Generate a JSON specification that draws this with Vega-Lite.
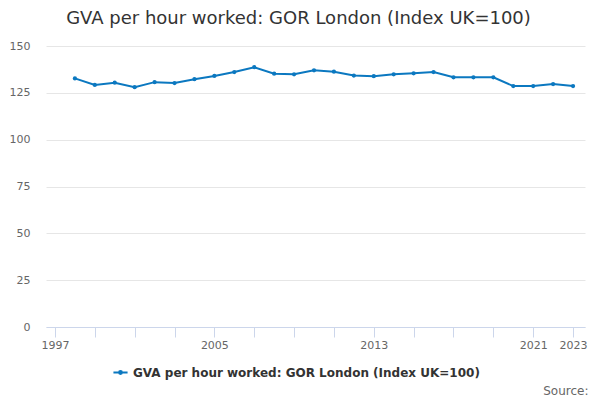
{
  "$schema": "https://vega.github.io/schema/vega-lite/v6.json",
  "autosize": {"type": "none"},
  "width": 539,
  "height": 281,
  "padding": {"left": 46, "top": 46, "right": 15, "bottom": 73},
  "background": "white",
  "title": {
    "text": "GVA per hour worked: GOR London (Index UK=100)",
    "font": "DejaVu Sans",
    "fontSize": 18,
    "fontWeight": "normal",
    "color": "#333333",
    "anchor": "middle",
    "frame": "group",
    "offset": 12,
    "dx": -17
  },
  "config": {
    "view": {"stroke": null},
    "font": "DejaVu Sans"
  },
  "data": {
    "values": [
      {"year": 1998, "value": 132.7, "series": "GVA per hour worked: GOR London (Index UK=100)"},
      {"year": 1999, "value": 129.2, "series": "GVA per hour worked: GOR London (Index UK=100)"},
      {"year": 2000, "value": 130.4, "series": "GVA per hour worked: GOR London (Index UK=100)"},
      {"year": 2001, "value": 128.0, "series": "GVA per hour worked: GOR London (Index UK=100)"},
      {"year": 2002, "value": 130.7, "series": "GVA per hour worked: GOR London (Index UK=100)"},
      {"year": 2003, "value": 130.2, "series": "GVA per hour worked: GOR London (Index UK=100)"},
      {"year": 2004, "value": 132.3, "series": "GVA per hour worked: GOR London (Index UK=100)"},
      {"year": 2005, "value": 134.0, "series": "GVA per hour worked: GOR London (Index UK=100)"},
      {"year": 2006, "value": 136.1, "series": "GVA per hour worked: GOR London (Index UK=100)"},
      {"year": 2007, "value": 138.7, "series": "GVA per hour worked: GOR London (Index UK=100)"},
      {"year": 2008, "value": 135.2, "series": "GVA per hour worked: GOR London (Index UK=100)"},
      {"year": 2009, "value": 134.9, "series": "GVA per hour worked: GOR London (Index UK=100)"},
      {"year": 2010, "value": 137.0, "series": "GVA per hour worked: GOR London (Index UK=100)"},
      {"year": 2011, "value": 136.3, "series": "GVA per hour worked: GOR London (Index UK=100)"},
      {"year": 2012, "value": 134.2, "series": "GVA per hour worked: GOR London (Index UK=100)"},
      {"year": 2013, "value": 133.9, "series": "GVA per hour worked: GOR London (Index UK=100)"},
      {"year": 2014, "value": 134.9, "series": "GVA per hour worked: GOR London (Index UK=100)"},
      {"year": 2015, "value": 135.4, "series": "GVA per hour worked: GOR London (Index UK=100)"},
      {"year": 2016, "value": 136.1, "series": "GVA per hour worked: GOR London (Index UK=100)"},
      {"year": 2017, "value": 133.3, "series": "GVA per hour worked: GOR London (Index UK=100)"},
      {"year": 2018, "value": 133.3, "series": "GVA per hour worked: GOR London (Index UK=100)"},
      {"year": 2019, "value": 133.3, "series": "GVA per hour worked: GOR London (Index UK=100)"},
      {"year": 2020, "value": 128.6, "series": "GVA per hour worked: GOR London (Index UK=100)"},
      {"year": 2021, "value": 128.6, "series": "GVA per hour worked: GOR London (Index UK=100)"},
      {"year": 2022, "value": 129.7, "series": "GVA per hour worked: GOR London (Index UK=100)"},
      {"year": 2023, "value": 128.6, "series": "GVA per hour worked: GOR London (Index UK=100)"}
    ]
  },
  "mark": {
    "type": "line",
    "strokeWidth": 2,
    "point": {"filled": true, "size": 18}
  },
  "encoding": {
    "x": {
      "field": "year",
      "type": "quantitative",
      "scale": {"domain": [1996.55, 2023.6], "nice": false, "zero": false},
      "axis": {
        "values": [1997, 1999, 2001, 2003, 2005, 2007, 2009, 2011, 2013, 2015, 2017, 2019, 2021, 2023],
        "labelExpr": "indexof([1997, 2005, 2013, 2021, 2023], datum.value) >= 0 ? datum.value : ''",
        "format": "d",
        "grid": false,
        "domainColor": "#ccd6eb",
        "tickColor": "#ccd6eb",
        "tickSize": 10,
        "labelFontSize": 11,
        "labelColor": "#666666",
        "labelPadding": 2,
        "title": "Source:",
        "titleFontSize": 12,
        "titleFontWeight": "normal",
        "titleColor": "#666666",
        "titleAnchor": "end",
        "titleAlign": "right",
        "titleBaseline": "middle",
        "titleX": 542,
        "titleY": 63
      }
    },
    "y": {
      "field": "value",
      "type": "quantitative",
      "scale": {"domain": [0, 150], "nice": false},
      "axis": {
        "values": [0, 25, 50, 75, 100, 125, 150],
        "title": null,
        "domain": false,
        "ticks": false,
        "gridColor": "#e6e6e6",
        "labelFontSize": 11,
        "labelColor": "#666666",
        "labelPadding": 16
      }
    },
    "color": {
      "field": "series",
      "type": "nominal",
      "scale": {"range": ["#0b78c0"]},
      "legend": {
        "title": null,
        "orient": "none",
        "legendX": 66,
        "legendY": 318,
        "symbolType": "M-1,0H1M-0.2,0A0.2,0.2,0,1,1,0.2,0A0.2,0.2,0,1,1,-0.2,0Z",
        "symbolFillColor": "#0b78c0",
        "symbolSize": 200,
        "symbolStrokeWidth": 2,
        "labelFontSize": 12,
        "labelFontWeight": "bold",
        "labelColor": "#333333",
        "labelLimit": 500
      }
    }
  }
}
